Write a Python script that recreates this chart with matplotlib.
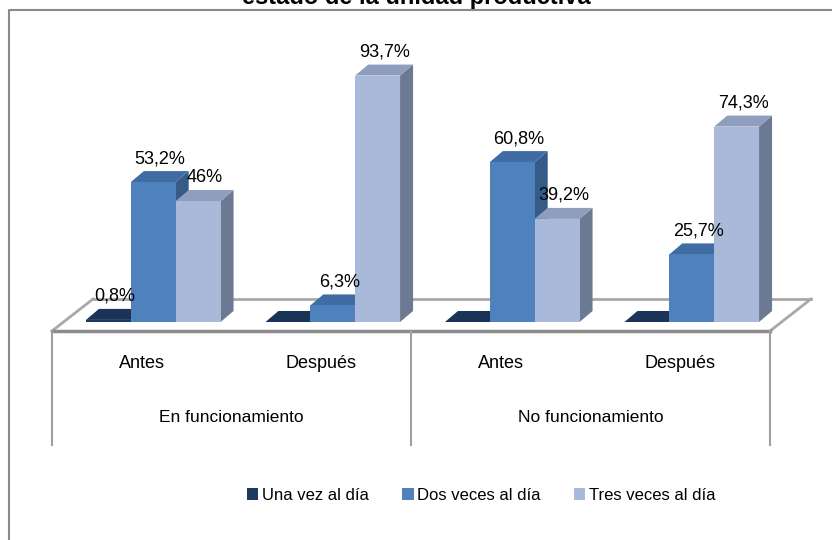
import matplotlib
matplotlib.use('Agg')
import matplotlib.pyplot as plt
from matplotlib.patches import Rectangle, Polygon, Patch
from matplotlib.lines import Line2D

plt.rcParams['font.family'] = ['Liberation Sans', 'DejaVu Sans']

title = 'estado de la unidad productiva'
groups = ['En funcionamiento', 'No funcionamiento']
periods = ['Antes', 'Después', 'Antes', 'Después']
series = ['Una vez al día', 'Dos veces al día', 'Tres veces al día']
una_vez = [0.8, 0, 0, 0]
dos_veces = [53.2, 6.3, 60.8, 25.7]
tres_veces = [46, 93.7, 39.2, 74.3]

# front / top / side face colours per series
front = ['#1f3a60', '#4f81bd', '#a9b9da']
top = ['#1a3459', '#3e6ca3', '#8f9ebd']
side = ['#0f2340', '#355b88', '#6c7993']

W, H = 832, 540
SX = 179.5   # pixels per category slot
SY = 2.63    # pixels per percent

fig = plt.figure(figsize=(W / 100, H / 100), dpi=100)
ax = fig.add_axes([63.5 / W, (H - 322) / H, 4 * SX / W, 100 * SY / H])
ax.set_xlim(0, 4)
ax.set_ylim(0, 100)
ax.axis('off')


def px_x(p):
    return p / SX


def px_y(p):
    return p / SY


DX, DY = px_x(13), px_y(11)
bw = 0.25

# floor of the 3d plot
fy0, fy1 = px_y(-9), px_y(23)
fx0, fx1 = px_x(-11.5), px_x(29.5)
ax.add_patch(Polygon([(fx0, fy0), (4 + fx0, fy0), (4 + fx1, fy1), (fx1, fy1)],
                     closed=True, facecolor='white', edgecolor='none', clip_on=False, zorder=1))
ax.plot([fx1, 4 + fx1], [fy1, fy1], color='#a8a8a8', lw=2, clip_on=False, zorder=1)
ax.plot([fx0, fx1], [fy0, fy1], color='#a8a8a8', lw=2, clip_on=False, zorder=1)
ax.plot([4 + fx0, 4 + fx1], [fy0, fy1], color='#a8a8a8', lw=2, clip_on=False, zorder=1)

# category table under the floor
ybot = px_y(-123)
ax.plot([fx0, 4 + fx0], [fy0, fy0], color='#8c8c8c', lw=2.5, clip_on=False, zorder=5)
for xv in [fx0, 2 + fx0, 4 + fx0]:
    ax.plot([xv, xv], [fy0, ybot], color='#a0a0a0', lw=1.5, clip_on=False, zorder=5)
for i, p in enumerate(periods):
    ax.text(i + 0.5 + fx0, px_y(-42), p, ha='center', va='center', fontsize=13)
for g, name in enumerate(groups):
    ax.text(2 * g + 1 + fx0, px_y(-96), name, ha='center', va='center', fontsize=12.5)

# bars
values = [una_vez, dos_veces, tres_veces]
for i in range(len(periods)):
    for j in range(len(series)):
        v = values[j][i]
        x0 = i + 0.125 + bw * j
        z = 10 + i * 3 + j
        ax.add_patch(Polygon([(x0 + bw, 0), (x0 + bw + DX, DY), (x0 + bw + DX, v + DY), (x0 + bw, v)],
                             closed=True, facecolor=side[j], edgecolor='none', clip_on=False, zorder=z))
        ax.add_patch(Polygon([(x0, v), (x0 + bw, v), (x0 + bw + DX, v + DY), (x0 + DX, v + DY)],
                             closed=True, facecolor=top[j], edgecolor='none', clip_on=False, zorder=z))
        ax.add_patch(Rectangle((x0, 0), bw, v, facecolor=front[j], edgecolor='none',
                               clip_on=False, zorder=z))
        if v > 0:
            lbl = f'{v:g}'.replace('.', ',') + '%'
            ax.text(x0 + bw / 2 + DX / 2, v + DY + px_y(4), lbl, ha='center', va='bottom',
                    fontsize=13, zorder=30)

# chart title and frame
fig.text(0.5, 1 - 4 / H, title, ha='center', va='baseline', fontsize=17, fontweight='bold')
fig.add_artist(Line2D([8.5 / W, 8.5 / W, 1], [0, 1 - 10 / H, 1 - 10 / H],
                      transform=fig.transFigure, color='#8a8a8a', lw=1.5))

handles = [Patch(facecolor=front[k], edgecolor='none') for k in range(3)]
fig.legend(handles, series, loc='center', bbox_to_anchor=(481 / W, 1 - 495 / H), ncol=3,
           frameon=False, fontsize=12, handlelength=0.7, handleheight=0.7,
           handletextpad=0.2, columnspacing=2.0)

fig.savefig('out.png', dpi=100)
